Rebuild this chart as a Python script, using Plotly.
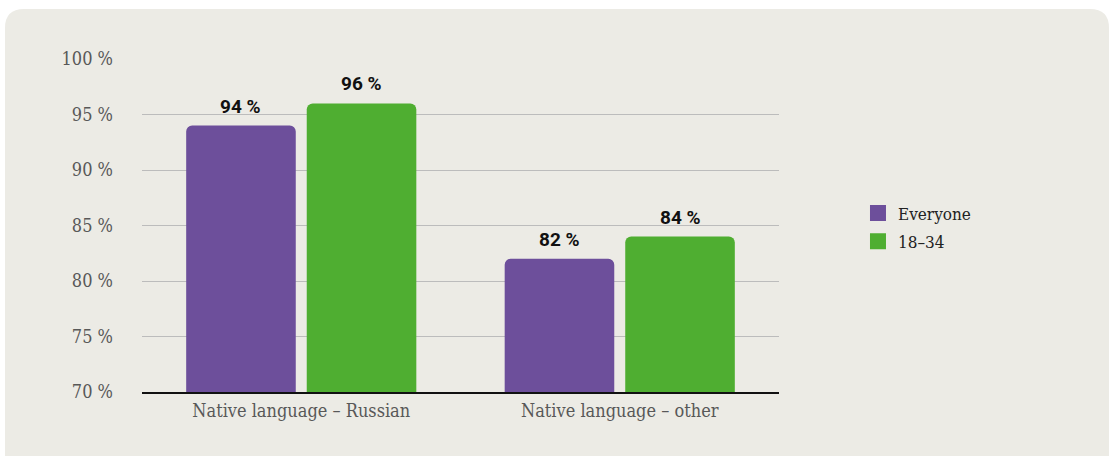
import plotly.graph_objects as go

# Share of respondents, by native language
categories = ["Native language – Russian", "Native language – other"]
series_names = ["Everyone", "18–34"]
everyone = [94, 82]
young = [96, 84]
y_ticks = [70, 75, 80, 85, 90, 95, 100]
y_tick_text = [f"{t} %" for t in y_ticks]

colors = ["#6d4f9b", "#4fae31"]
panel_bg = "#ecebe5"
slab = "DejaVu Serif Condensed"

W, H = 1112, 456
ML, MR, MT, MB = 142, 333, 59, 64
BARGAP = 0.243

fig = go.Figure()
for name, vals, col in zip(series_names, [everyone, young], colors):
    fig.add_trace(go.Bar(
        x=categories, y=vals, name=name, marker_color=col,
        marker_line_width=0, showlegend=False,
    ))
    # legend entry with a larger square swatch
    fig.add_trace(go.Scatter(
        x=[None], y=[None], mode="markers", name=name, legendgroup=name,
        marker=dict(symbol="square", size=16, color=col),
    ))

# value labels above each bar
slot = (1 - BARGAP) / len(series_names)
for s, vals in enumerate([everyone, young]):
    off = (s - (len(series_names) - 1) / 2) * slot
    for i, v in enumerate(vals):
        fig.add_annotation(
            x=i + off, y=v, xref="x", yref="y", text=f"{v} %",
            showarrow=False, yanchor="bottom", yshift=6,
            font=dict(family="Roboto", size=19, color="#111111", weight="bold"),
        )

# rounded background panel (paper coordinates)
pw, ph = W - ML - MR, H - MT - MB
def px(x):
    return (x - ML) / pw
def py(y):
    return (H - MB - y) / ph
x0, x1, y0, y1, r = 5, 1109, 9, 470, 19
path = (
    f"M {px(x0)} {py(y1)} L {px(x0)} {py(y0 + r)} "
    f"Q {px(x0)} {py(y0)} {px(x0 + r)} {py(y0)} "
    f"L {px(x1 - r)} {py(y0)} "
    f"Q {px(x1)} {py(y0)} {px(x1)} {py(y0 + r)} "
    f"L {px(x1)} {py(y1)} Z"
)
fig.add_shape(type="path", path=path, xref="paper", yref="paper",
              fillcolor=panel_bg, line_width=0, layer="below")

fig.update_layout(
    width=W, height=H,
    margin=dict(l=ML, r=MR, t=MT, b=MB, pad=0),
    paper_bgcolor="white", plot_bgcolor="rgba(0,0,0,0)",
    barmode="group", bargap=BARGAP, bargroupgap=0.091, barcornerradius=6,
    font=dict(family=slab, size=18, color="#555555"),
    legend=dict(x=1.124, y=0.494, xanchor="left", yanchor="middle",
                bgcolor="rgba(0,0,0,0)",
                font=dict(family=slab, size=17, color="#222222"),
                tracegroupgap=3),
    xaxis=dict(showgrid=False, showline=True, linecolor="#111111", linewidth=2,
               ticks="", ticklabelstandoff=1,
               tickfont=dict(family=slab, size=18, color="#585858")),
    yaxis=dict(range=[70, 100], tickmode="array", tickvals=y_ticks,
               ticktext=y_tick_text,
               showgrid=True, gridcolor="#bcbcbc", gridwidth=1,
               zeroline=False, showline=False, ticks="",
               ticklabelstandoff=28,
               tickfont=dict(family=slab, size=18, color="#585858")),
)

fig.write_html("out.html")
